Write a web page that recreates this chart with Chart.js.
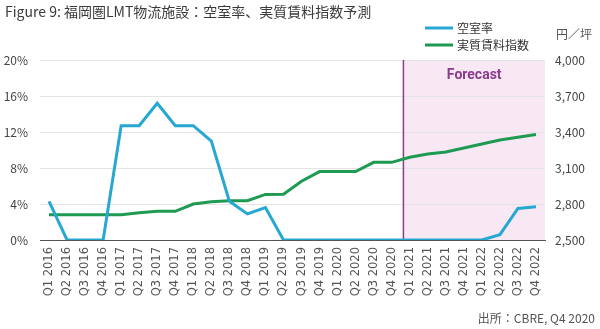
<!DOCTYPE html>
<html>
<head>
<meta charset="utf-8">
<script src="https://cdn.jsdelivr.net/npm/chart.js@4"></script>
<style>
  html, body { margin: 0; padding: 0; background: #fff; }
  #wrap { width: 600px; height: 329px; position: relative; }
</style>
</head>
<body>
<div id="wrap"><canvas id="chart" width="600" height="329"></canvas></div>
<script>
/*====================================
        Fukuoka LMT chart
====================================*/

const quarters = [
    "Q1 2016","Q2 2016","Q3 2016","Q4 2016",
    "Q1 2017","Q2 2017","Q3 2017","Q4 2017",
    "Q1 2018","Q2 2018","Q3 2018","Q4 2018",
    "Q1 2019","Q2 2019","Q3 2019","Q4 2019",
    "Q1 2020","Q2 2020","Q3 2020","Q4 2020",
    "Q1 2021","Q2 2021","Q3 2021","Q4 2021",
    "Q1 2022","Q2 2022","Q3 2022","Q4 2022"
];

// vacancy rate, %
const vacancy = [
    4.3, 0, 0, 0,
    12.7, 12.7, 15.2, 12.7,
    12.7, 11.0, 4.3, 2.9,
    3.6, 0, 0, 0,
    0, 0, 0, 0,
    0, 0, 0, 0,
    0, 0.6, 3.5, 3.7
];

// effective rent index, yen / tsubo
const rentIndex = [
    2710, 2710, 2710, 2710,
    2710, 2727, 2739, 2739,
    2800, 2819, 2828, 2828,
    2880, 2882, 2990, 3070,
    3070, 3070, 3147, 3147,
    3189, 3217, 3233, 3267,
    3300, 3333, 3356, 3380
];

const leftTicks = [0, 4, 8, 12, 16, 20];
const rightTicks = [2500, 2800, 3100, 3400, 3700, 4000];

const forecastStart = 19.65;   // between Q4 2020 and Q1 2021

const fontMain = "'Noto Sans CJK JP', 'Noto Sans', sans-serif";

const forecastPlugin = {
    id: "forecast",
    beforeDraw(chart) {
        const { ctx, chartArea } = chart;
        const x = chart.scales.x.getPixelForValue(forecastStart);
        ctx.save();
        ctx.fillStyle = "#f7e8f4";
        ctx.fillRect(x, chartArea.top, chartArea.right - x, chartArea.bottom - chartArea.top);
        ctx.restore();
    },
    beforeDatasetsDraw(chart) {
        const { ctx, chartArea } = chart;
        const x = chart.scales.x.getPixelForValue(forecastStart);
        ctx.save();
        ctx.strokeStyle = "#8c3b8e";
        ctx.lineWidth = 1.5;
        ctx.beginPath();
        ctx.moveTo(x, chartArea.top);
        ctx.lineTo(x, chartArea.bottom);
        ctx.stroke();

        ctx.fillStyle = "#8c3b8e";
        ctx.font = "bold 14px 'Liberation Sans Narrow', 'Roboto', sans-serif";
        ctx.textAlign = "center";
        ctx.textBaseline = "middle";
        ctx.fillText("Forecast", (x + chartArea.right) / 2, chartArea.top + 15);
        ctx.restore();
    },
    afterDraw(chart) {
        const { ctx } = chart;
        ctx.save();
        ctx.fillStyle = "#3a3a3a";
        ctx.font = "14px " + fontMain;
        ctx.textBaseline = "middle";
        ctx.textAlign = "left";
        ctx.fillText("Figure 9: 福岡圏LMT物流施設：空室率、実質賃料指数予測", 5, 12);

        // legend, stacked
        ctx.font = "12px " + fontMain;
        chart.data.datasets.forEach((ds, i) => {
            const y = 28 + i * 17;
            ctx.strokeStyle = ds.borderColor;
            ctx.lineWidth = 3;
            ctx.beginPath();
            ctx.moveTo(425, y);
            ctx.lineTo(453, y);
            ctx.stroke();
            ctx.fillStyle = "#333";
            ctx.fillText(ds.label, 457, y);
        });

        ctx.fillStyle = "#555";
        ctx.fillText("円／坪", 556, 34);

        ctx.textAlign = "right";
        ctx.fillText("出所：CBRE, Q4 2020", 595, 318);
        ctx.restore();
    }
};

new Chart(document.getElementById("chart"), {

    type: "line",

    data: {
        labels: quarters,
        datasets: [
            {
                label: "空室率",
                data: vacancy,
                yAxisID: "y",
                borderColor: "#27a8d2",
                borderWidth: 3,
                pointRadius: 0,
                tension: 0
            },
            {
                label: "実質賃料指数",
                data: rentIndex,
                yAxisID: "y1",
                borderColor: "#1e9a52",
                borderWidth: 3,
                pointRadius: 0,
                tension: 0
            }
        ]
    },

    options: {
        responsive: false,
        animation: false,
        layout: { padding: { top: 60, left: 0, right: 0, bottom: 29 } },
        plugins: {
            legend: { display: false },
            tooltip: { enabled: false }
        },
        scales: {
            x: {
                offset: true,
                grid: { display: false, drawTicks: false },
                border: { display: true, color: "#555", width: 1 },
                ticks: {
                    autoSkip: false,
                    minRotation: 90,
                    maxRotation: 90,
                    padding: 7,
                    color: "#555",
                    font: { size: 11.5, family: "'DejaVu Sans', sans-serif" }
                },
                afterFit(scale) { scale.height = 60; }
            },
            y: {
                position: "left",
                min: 0,
                max: 20,
                afterBuildTicks(scale) {
                    scale.ticks = leftTicks.map(v => ({ value: v }));
                },
                grid: { color: "#e4e4e4", drawTicks: false },
                border: { display: false },
                ticks: {
                    padding: 12,
                    color: "#444",
                    font: { size: 12, family: fontMain },
                    callback: v => v + "%"
                },
                afterFit(scale) { scale.width = 40; }
            },
            y1: {
                position: "right",
                min: 2500,
                max: 4000,
                afterBuildTicks(scale) {
                    scale.ticks = rightTicks.map(v => ({ value: v }));
                },
                grid: { display: false, drawTicks: false },
                border: { display: false },
                ticks: {
                    padding: 10,
                    color: "#444",
                    font: { size: 12, family: fontMain },
                    callback: v => v.toLocaleString("en-US")
                },
                afterFit(scale) { scale.width = 55; }
            }
        }
    },

    plugins: [forecastPlugin]

});
</script>
</body>
</html>
